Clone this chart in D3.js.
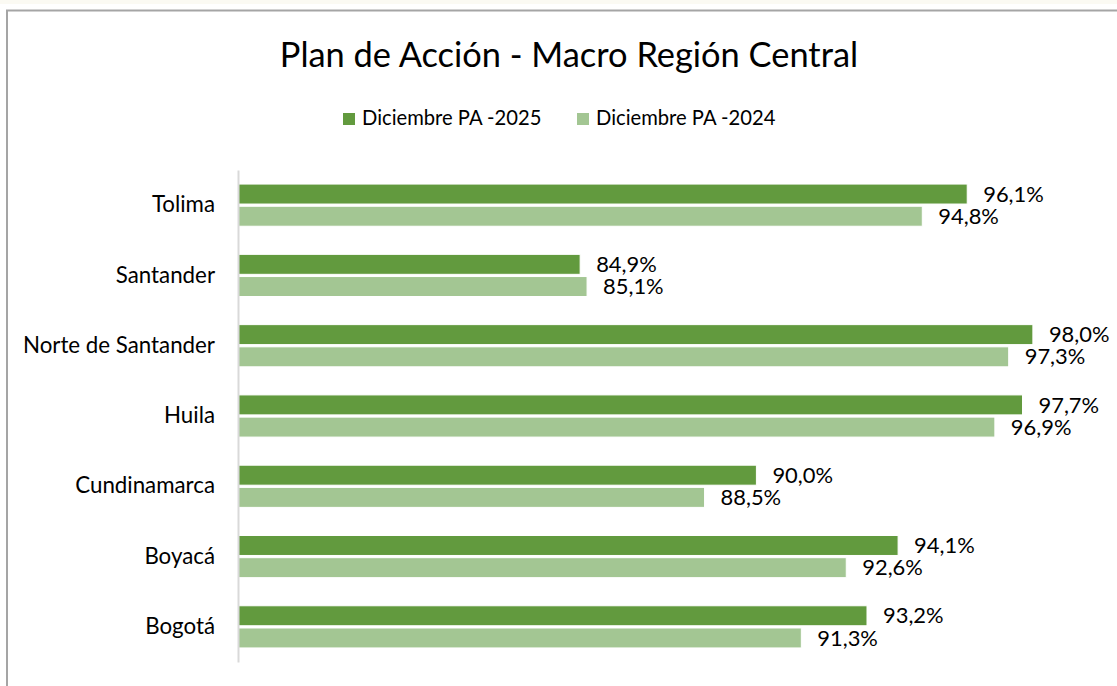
<!DOCTYPE html>
<html>
<head>
<meta charset="utf-8">
<script src="https://cdn.jsdelivr.net/npm/d3@7"></script>
<style>
  html, body { margin: 0; padding: 0; background: #fff; }
  svg { display: block; font-family: Lato, "Open Sans", sans-serif; }
</style>
</head>
<body>
<div id="chart"></div>
<script>
const categories = ['Tolima', 'Santander', 'Norte de Santander', 'Huila', 'Cundinamarca', 'Boyacá', 'Bogotá'];
const seriesNames = ['Diciembre PA -2025', 'Diciembre PA -2024'];
const values2025 = [96.1, 84.9, 98.0, 97.7, 90.0, 94.1, 93.2];
const values2024 = [94.8, 85.1, 97.3, 96.9, 88.5, 92.6, 91.3];
const colors = ['#629A3E', '#A3C693'];

const width = 1117, height = 686;
const margin = { top: 170, right: 15, bottom: 24, left: 238 };

const svg = d3.select('#chart').append('svg')
  .attr('width', width)
  .attr('height', height);

svg.append('rect').attr('width', width).attr('height', 4).attr('fill', '#FBFAF3');
svg.append('rect')
  .attr('x', 7).attr('y', 10.5)
  .attr('width', 1300).attr('height', 900)
  .attr('fill', 'none')
  .attr('stroke', '#A5A5A5')
  .attr('stroke-width', 2);

svg.append('text')
  .attr('x', 569).attr('y', 67)
  .attr('text-anchor', 'middle')
  .style('font-size', '34.4px')
  .attr('fill', '#000')
  .text('Plan de Acción - Macro Región Central');

// legend
const legendX = [343, 577];
seriesNames.forEach((s, i) => {
  const g = svg.append('g').attr('transform', `translate(${legendX[i]},113)`);
  g.append('rect').attr('width', 12).attr('height', 12).attr('fill', colors[i]);
  g.append('text').attr('x', 19).attr('y', 12).style('font-size', '20.2px').attr('fill', '#000').text(s);
});

const x = d3.scaleLinear().domain([75, 100]).range([margin.left, width - margin.right]);
const y0 = d3.scaleBand().domain(categories).range([margin.top, height - margin.bottom]);
const y1 = d3.scaleBand().domain(seriesNames)
  .range([y0.bandwidth() * 0.2, y0.bandwidth() * 0.8])
  .paddingInner(0.1);

const rows = categories.map((c, i) => ({
  cat: c,
  vals: [
    { s: seriesNames[0], v: values2025[i], c: colors[0] },
    { s: seriesNames[1], v: values2024[i], c: colors[1] }
  ]
}));

const groups = svg.selectAll('g.cat').data(rows).enter().append('g')
  .attr('class', 'cat')
  .attr('transform', d => `translate(0,${y0(d.cat)})`);

groups.selectAll('rect').data(d => d.vals).enter().append('rect')
  .attr('x', x(75))
  .attr('y', d => y1(d.s))
  .attr('width', d => x(d.v) - x(75))
  .attr('height', y1.bandwidth())
  .attr('fill', d => d.c)
  .attr('stroke', '#fff')
  .attr('stroke-width', 1);

groups.selectAll('text.val').data(d => d.vals).enter().append('text')
  .attr('class', 'val')
  .attr('x', d => x(d.v) + 16)
  .attr('y', d => y1(d.s) + y1.bandwidth() / 2)
  .attr('dy', '0.35em')
  .style('font-size', '21.9px')
  .attr('fill', '#000')
  .text(d => d.v.toFixed(1).replace('.', ',') + '%');

// category axis
const axis = svg.append('g')
  .attr('transform', `translate(${margin.left},0)`)
  .call(d3.axisLeft(y0).tickSize(0).tickPadding(23));
axis.select('.domain').attr('stroke', '#D9D9D9').attr('stroke-width', 2);
axis.selectAll('text')
  .style('font-size', '22.3px')
  .style('font-family', 'Lato, "Open Sans", sans-serif')
  .attr('fill', '#000');
</script>
</body>
</html>
